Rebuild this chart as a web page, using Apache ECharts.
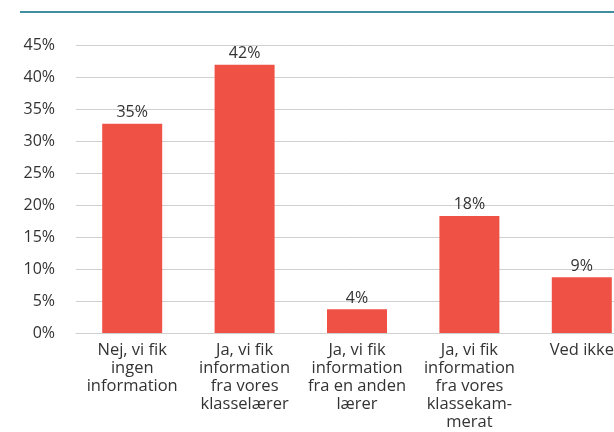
<!DOCTYPE html>
<html>
<head>
<meta charset="utf-8">
<script src="https://cdn.jsdelivr.net/npm/echarts@6/dist/echarts.min.js"></script>
<style>
  html, body { margin: 0; padding: 0; background: #fff; overflow: hidden; }
  #chart { width: 614px; height: 432px; }
</style>
</head>
<body>
<div id="chart"></div>
<script>
// data
const categories = [
  'Nej, vi fik\ningen\ninformation',
  'Ja, vi fik\ninformation\nfra vores\nklasselærer',
  'Ja, vi fik\ninformation\nfra en anden\nlærer',
  'Ja, vi fik\ninformation\nfra vores\nklassekam-\nmerat',
  'Ved ikke',
];
const values = [32.7, 41.9, 3.7, 18.3, 8.7];
const valueLabels = ['35%', '42%', '4%', '18%', '9%'];
const yTicks = [0, 5, 10, 15, 20, 25, 30, 35, 40, 45];

const chart = echarts.init(document.getElementById('chart'));
const font = '"Open Sans", sans-serif';

chart.setOption({
  animation: false,
  textStyle: { fontFamily: font },
  graphic: [{
    type: 'line',
    shape: { x1: 20, y1: 12, x2: 614, y2: 12 },
    style: { stroke: '#00697f', lineWidth: 1.5 },
  }],
  // plot runs past the right edge, like the cropped original
  grid: { left: 76, width: 562, top: 45, bottom: 99, outerBoundsMode: 'none', containLabel: false },
  xAxis: {
    type: 'category',
    data: categories,
    axisTick: { show: false },
    axisLine: { lineStyle: { color: '#d0d0d0' } },
    axisLabel: {
      interval: 0,
      fontSize: 16.5,
      lineHeight: 18,
      color: '#333',
      margin: 8,
      fontFamily: font,
    },
  },
  yAxis: {
    type: 'value',
    min: yTicks[0],
    max: yTicks[yTicks.length - 1],
    interval: 5,
    axisLine: { show: false },
    axisTick: { show: false },
    axisLabel: {
      fontSize: 16,
      color: '#333',
      margin: 21,
      fontFamily: font,
      formatter: (v) => v + '%',
    },
    splitLine: { lineStyle: { color: '#d0d0d0', width: 1 } },
  },
  series: [{
    type: 'bar',
    data: values,
    barWidth: 60,
    itemStyle: { color: '#f05145' },
    label: {
      show: true,
      position: 'top',
      distance: 3,
      fontSize: 16,
      color: '#333',
      fontFamily: font,
      formatter: (p) => valueLabels[p.dataIndex],
    },
  }],
});
</script>
</body>
</html>
